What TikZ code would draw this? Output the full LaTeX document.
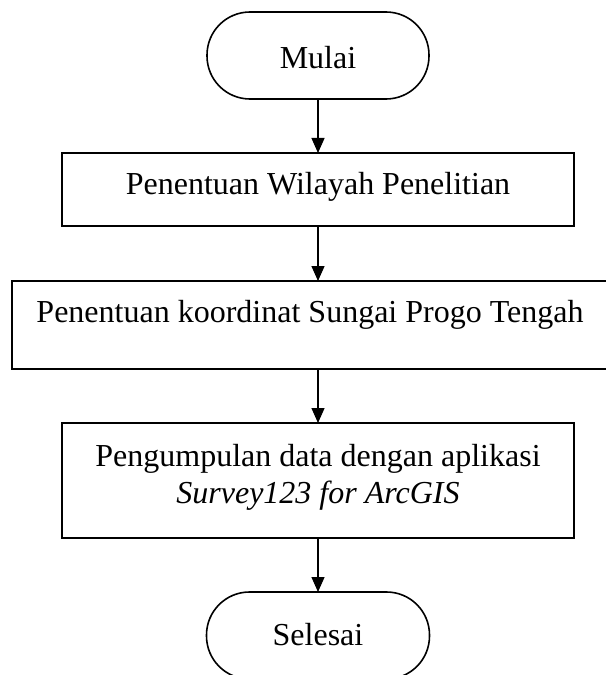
\documentclass[tikz,border=0pt]{standalone}
\usepackage{fontspec}
\setmainfont{Liberation Serif}
\usetikzlibrary{arrows.meta}
\begin{document}
\begin{tikzpicture}[x=1bp,y=-1bp,
  proc/.style={draw, line width=1.6bp, rectangle, inner sep=0pt, outer sep=0pt},
  term/.style={proc, rounded corners=43bp},
  txt/.style={anchor=base, inner sep=0pt, font=\fontsize{32bp}{37bp}\selectfont},
  flow/.style={line width=1.3bp, -{Triangle[width=13bp,length=15bp]}}]
\useasboundingbox (0,0) rectangle (606,675);
\node[term, minimum width=222bp, minimum height=87bp] (start) at (318,55.5) {};
\node[txt] (tstart) at (318,69) {Mulai};
\node[proc, minimum width=512bp, minimum height=73bp] (b1) at (318,189.5) {};
\node[txt] (t1) at (318,194) {Penentuan Wilayah Penelitian};
\node[proc, minimum width=596bp, minimum height=88bp] (b2) at (310,325) {};
\node[txt] (t2) at (310,322) {Penentuan koordinat Sungai Progo Tengah};
\node[proc, minimum width=512bp, minimum height=115bp] (b3) at (318,480.5) {};
\node[txt] (t3a) at (318,466) {Pengumpulan data dengan aplikasi};
\node[txt] (t3b) at (318,503) {\itshape Survey123 for ArcGIS};
\node[term, minimum width=223bp, minimum height=87bp] (end) at (318,635.5) {};
\node[txt] (tend) at (318,645) {Selesai};
\draw[flow] (start.south) -- (b1.north);
\draw[flow] (b1.south) -- (b1.south |- b2.north);
\draw[flow] (b1.south |- b2.south) -- (b3.north);
\draw[flow] (b3.south) -- (end.north);
\end{tikzpicture}
\end{document}
